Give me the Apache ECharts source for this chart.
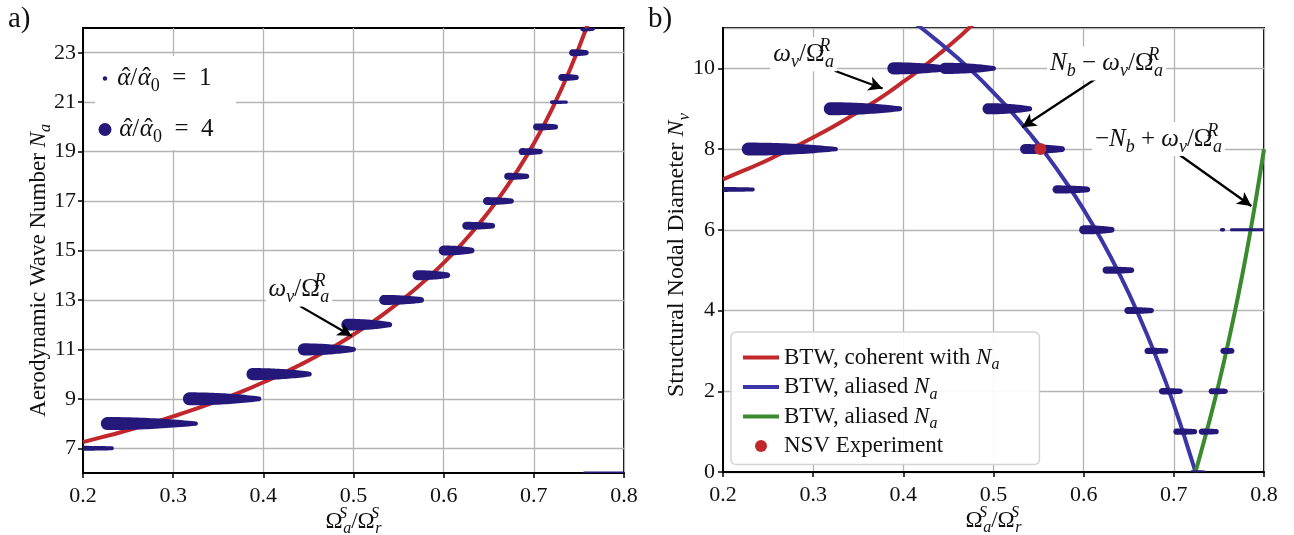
<!DOCTYPE html>
<html><head><meta charset="utf-8">
<script src="https://cdn.jsdelivr.net/npm/echarts@6/dist/echarts.min.js"></script>
<style>html,body{margin:0;padding:0;background:#fff;}#c{width:1294px;height:535px;}</style>
</head><body><div id="c"></div>
<script>
// ---------------- data ----------------
const xTicks = [0.2, 0.3, 0.4, 0.5, 0.6, 0.7, 0.8];
const yTicksA = [7, 9, 11, 13, 15, 17, 19, 21, 23];
const yTicksB = [0, 2, 4, 6, 8, 10];

// BTW coherent with Na : omega_v / Omega_a^R
const curveX = [0.20,0.22,0.24,0.26,0.28,0.30,0.32,0.34,0.36,0.38,0.40,0.42,0.44,0.46,0.48,0.50,0.52,0.54,0.56,0.58,0.60,0.62,0.64,0.66,0.68,0.70,0.72,0.74,0.76];
const curveCoherent = [7.25,7.44,7.63,7.84,8.06,8.29,8.53,8.79,9.06,9.35,9.67,10.00,10.36,10.74,11.15,11.60,12.08,12.61,13.18,13.81,14.50,15.26,16.11,17.06,18.13,19.33,20.71,22.31,24.17];
// aliased: Nb - omega_v/Omega_a^R
const aliasNegX = [0.40,0.42,0.44,0.46,0.48,0.50,0.52,0.54,0.56,0.58,0.60,0.62,0.64,0.66,0.68,0.70,0.72,0.724];
const aliasNegNv = [11.33,11.00,10.64,10.26,9.85,9.40,8.92,8.39,7.82,7.19,6.50,5.74,4.89,3.94,2.87,1.67,0.29,0.00];
// aliased: -Nb + omega_v/Omega_a^R
const aliasPosX = [0.724,0.73,0.74,0.75,0.76,0.77,0.78,0.79,0.80];
const aliasPosNv = [0.00,0.48,1.31,2.20,3.17,4.22,5.36,6.62,8.00];
// NSV experiment
const nsvX = [0.552];
const nsvNv = [8];

// panel a streaks: wave number, x at start, x at end, alpha-hat ratio at start / end
const streakA_N  = [7, 8, 9, 10, 11, 12, 13, 14, 15, 16, 17, 18, 19, 20, 21, 22, 23, 24, 6];
const streakA_x0 = [0.195,0.227,0.318,0.388,0.445,0.493,0.534,0.571,0.600,0.625,0.648,0.671,0.687,0.703,0.720,0.731,0.743,0.755,0.756];
const streakA_x1 = [0.232,0.325,0.395,0.451,0.500,0.540,0.575,0.604,0.631,0.654,0.675,0.692,0.707,0.724,0.736,0.747,0.758,0.765,0.800];
const streakA_a0 = [1.3,4.0,4.0,3.7,3.7,3.6,3.0,3.0,3.0,2.3,2.3,2.0,2.0,2.0,0.9,2.0,2.0,2.0,0.7];
const streakA_a1 = [1.0,1.1,1.3,1.3,1.3,1.4,1.6,1.6,1.6,1.5,1.4,1.4,1.4,1.4,0.7,1.4,1.4,1.6,0.7];

// panel b streaks: nodal diameter, x at start, x at end, alpha ratio start / end
const streakB_N  = [7, 8, 9, 10, 10, 9, 8, 7, 6, 5, 4, 3, 2, 1, 0, 1, 2, 3, 6, 6];
const streakB_x0 = [0.195,0.228,0.319,0.389,0.446,0.494,0.535,0.570,0.600,0.625,0.649,0.671,0.687,0.703,0.720,0.731,0.742,0.755,0.753,0.764];
const streakB_x1 = [0.233,0.325,0.396,0.451,0.500,0.540,0.576,0.604,0.631,0.653,0.675,0.691,0.707,0.723,0.734,0.747,0.757,0.764,0.755,0.800];
const streakB_a0 = [1.3,4.0,4.0,3.7,3.4,3.4,3.0,2.4,2.7,2.1,2.0,1.8,1.8,1.8,0.9,1.7,1.7,1.7,0.8,0.7];
const streakB_a1 = [1.0,1.1,1.3,1.3,1.3,1.4,1.6,1.6,1.6,1.5,1.4,1.4,1.4,1.4,0.7,1.4,1.4,1.6,0.8,0.7];

// ---------------- styling ----------------
const F = "'Liberation Serif','DejaVu Serif',serif";
const C = {red:'#c0282d', blue:'#3b35a6', green:'#3b8a2e', navy:'#24197a', grid:'#b4b4b4', ink:'#111'};
function rich(S){
  const b = {fontFamily:F, fontSize:S, color:C.ink, lineHeight:Math.round(S*1.35), verticalAlign:'middle'};
  const s = {fontFamily:F, fontSize:Math.round(S*0.7), color:C.ink, fontStyle:'italic'};
  return {
    rm: b,
    it: Object.assign({}, b, {fontStyle:'italic'}),
    hat: Object.assign({}, b, {width:0.5}),
    sub: Object.assign({}, s, {verticalAlign:'bottom'}),
    subr: Object.assign({}, s, {verticalAlign:'bottom', fontStyle:'normal'}),
    sup: Object.assign({}, s, {verticalAlign:'top'}),
    supz: Object.assign({}, s, {verticalAlign:'top', width:0.5})
  };
}
const alphaSize = a => 1 + 3 * a;   // marker diameter for alpha ratio

function zip(){ const arrs=[...arguments]; return arrs[0].map((_,i)=>arrs.map(a=>a[i])); }

function streakItem(params, api){
  const y = api.value(0), x0 = api.value(1), x1 = api.value(2);
  const r0 = alphaSize(api.value(3))/2, r1 = alphaSize(api.value(4))/2;
  const p0 = api.coord([x0, y]), p1 = api.coord([x1, y]);
  const L = p1[0]-p0[0];
  const rad = t => r1 + (r0 - r1) * (1 - t*t);
  const pts = [], n = 24;
  for (let i=0;i<=n;i++){ const t=i/n; pts.push([p0[0]+L*t, p0[1]-rad(t)]); }
  for (let k=1;k<12;k++){ const th=-Math.PI/2+Math.PI*k/12; pts.push([p1[0]+r1*Math.cos(th), p1[1]+r1*Math.sin(th)]); }
  for (let i=n;i>=0;i--){ const t=i/n; pts.push([p0[0]+L*t, p0[1]+rad(t)]); }
  for (let k=1;k<12;k++){ const th=Math.PI/2+Math.PI*k/12; pts.push([p0[0]+r0*Math.cos(th), p0[1]+r0*Math.sin(th)]); }
  return {type:'polygon', shape:{points:pts}, style:{fill:C.navy}};
}

const NAMES = {
  a1:'alpha1', a4:'alpha4',
  coh:'BTW, coherent with Na', neg:'BTW, aliased Na', pos:'BTW, aliased Na (2)', nsv:'NSV Experiment'
};
const AH = '{hat|\u2009\u02C6}{it|α}';
const LEG_TEXT = {};
LEG_TEXT[NAMES.a1] = AH + '{rm|/}' + AH + '{subr|0}{rm|\u2002=\u20021}';
LEG_TEXT[NAMES.a4] = AH + '{rm|/}' + AH + '{subr|0}{rm|\u2002=\u20024}';
LEG_TEXT[NAMES.coh] = '{rm|BTW, coherent with }{it|N}{sub|a}';
LEG_TEXT[NAMES.neg] = '{rm|BTW, aliased }{it|N}{sub|a}';
LEG_TEXT[NAMES.pos] = '{rm|BTW, aliased }{it|N}{sub|a}';
LEG_TEXT[NAMES.nsv] = '{rm|NSV Experiment}';

const OMEGA_RATIO = '{it|ω}{sub|v}{rm|/Ω}{supz|R}{sub|a}';

function xAxisCfg(gi){
  return {
    type:'value', gridIndex:gi, min:xTicks[0], max:xTicks[xTicks.length-1], interval:0.1,
    axisLine:{show:true, onZero:false, lineStyle:{color:'#000', width:2}},
    axisTick:{show:true, length:5, lineStyle:{color:'#000', width:1.5}},
    axisLabel:{fontFamily:F, fontSize:22, color:C.ink, margin:12, formatter:v=>v.toFixed(1)},
    splitLine:{show:true, lineStyle:{color:C.grid, width:1.3}},
    name:'{rm|Ω}{supz|S}{sub|a}{rm|/Ω}{supz|S}{sub|r}', nameLocation:'middle', nameGap:33, nameMoveOverlap:false,
    nameTextStyle:{rich:rich(23)}
  };
}

const option = {
  backgroundColor:'#fff',
  animation:false,
  title:[
    {text:'a)', left:3, top:0, textStyle:{fontFamily:F, fontSize:29, fontWeight:'normal', color:C.ink}},
    {text:'b)', left:643, top:0, textStyle:{fontFamily:F, fontSize:29, fontWeight:'normal', color:C.ink}}
  ],
  grid:[
    {left:83, top:28, width:541, height:445, show:true, borderColor:'#000', borderWidth:2, backgroundColor:'transparent',
     containLabel:false, outerBoundsMode:'none'},
    {left:723, top:28, width:541, height:444, show:true, borderColor:'#000', borderWidth:2, backgroundColor:'transparent',
     containLabel:false, outerBoundsMode:'none'}
  ],
  xAxis:[xAxisCfg(0), xAxisCfg(1)],
  yAxis:[
    {type:'value', gridIndex:0, min:6, max:24,
     axisLine:{show:true, onZero:false, lineStyle:{color:'#000', width:2}},
     axisTick:{show:true, length:5, customValues:yTicksA, lineStyle:{color:'#000', width:1.5}},
     axisLabel:{fontFamily:F, fontSize:22, color:C.ink, margin:7, customValues:yTicksA},
     splitLine:{show:false},
     name:'{rm|Aerodynamic Wave Number }{it|N}{sub|a}', nameLocation:'middle', nameGap:29, nameRotate:90, nameMoveOverlap:false,
     nameTextStyle:{rich:rich(23), padding:[0,40,0,0]}},
    {type:'value', gridIndex:1, min:yTicksB[0], max:11, interval:2,
     axisLine:{show:true, onZero:false, lineStyle:{color:'#000', width:2}},
     axisTick:{show:true, length:5, lineStyle:{color:'#000', width:1.5}},
     axisLabel:{fontFamily:F, fontSize:22, color:C.ink, margin:8, showMaxLabel:false},
     splitLine:{show:true, lineStyle:{color:C.grid, width:1.3}},
     name:'{rm|Structural Nodal Diameter }{it|N}{sub|v}', nameLocation:'middle', nameGap:30, nameRotate:90, nameMoveOverlap:false,
     nameTextStyle:{rich:rich(24), padding:[0,10,0,0]}}
  ],
  legend:[
    {data:[NAMES.a1], left:102.75, top:66, orient:'vertical', padding:0, itemWidth:13.25, itemHeight:4.5, icon:'circle',
     formatter:n=>LEG_TEXT[n], textStyle:{rich:rich(25)}, selectedMode:false, z:10},
    {data:[NAMES.a4], left:98.5, top:117, orient:'vertical', padding:0, itemWidth:17.5, itemHeight:13, icon:'circle',
     formatter:n=>LEG_TEXT[n], textStyle:{rich:rich(25)}, selectedMode:false, z:10},
    {data:[{name:NAMES.coh, itemStyle:{opacity:0}}, {name:NAMES.neg, itemStyle:{opacity:0}},
           {name:NAMES.pos, itemStyle:{opacity:0}}, {name:NAMES.nsv, icon:'circle'}],
     left:731, top:332, orient:'vertical', padding:[14,40,7,10], itemGap:2.5, itemWidth:36, itemHeight:12,
     lineStyle:{width:'inherit'},
     backgroundColor:'rgba(255,255,255,0.92)', borderColor:'#d4d4d4', borderWidth:1.5, borderRadius:5,
     formatter:n=>LEG_TEXT[n], textStyle:{rich:rich(23)}, selectedMode:false, z:10}
  ],
  graphic:[
    {type:'rect', left:95, top:56, shape:{width:141, height:94}, style:{fill:'#fff'}, z:5, silent:true}
  ],
  series:[
    // panel a grid lines at odd wave numbers
    {type:'line', xAxisIndex:0, yAxisIndex:0, data:[], silent:true, z:0,
     markLine:{silent:true, z:0, symbol:['none','none'], label:{show:false}, animation:false,
       lineStyle:{color:C.grid, width:1.3, type:'solid'}, emphasis:{disabled:true},
       data:yTicksA.map(v=>({yAxis:v}))}},
    // panel a curve
    {name:'curveA', type:'line', xAxisIndex:0, yAxisIndex:0, data:zip(curveX, curveCoherent),
     symbol:'none', smooth:true, clip:true, lineStyle:{color:C.red, width:4}, z:2},
    // panel a streaks
    {name:'streaksA', type:'custom', xAxisIndex:0, yAxisIndex:0, clip:true, z:3,
     data:zip(streakA_N, streakA_x0, streakA_x1, streakA_a0, streakA_a1),
     encode:{x:[1,2], y:0}, renderItem:streakItem},
    // legend entries for panel a
    {name:NAMES.a1, type:'scatter', xAxisIndex:0, yAxisIndex:0, data:[], itemStyle:{color:C.navy, opacity:1}},
    {name:NAMES.a4, type:'scatter', xAxisIndex:0, yAxisIndex:0, data:[], itemStyle:{color:C.navy, opacity:1}},
    // panel a annotation
    {type:'line', xAxisIndex:0, yAxisIndex:0, data:[], z:6,
     markLine:{silent:true, symbol:['none','arrow'], symbolSize:[11,14], label:{show:false},
       lineStyle:{color:'#000', width:2.3, type:'solid'}, emphasis:{disabled:true},
       data:[[{coord:[0.4407,12.75]},{coord:[0.498,11.54]}]]},
     markPoint:{silent:true, symbol:'rect', symbolSize:0,
       label:{show:true, position:'inside', formatter:OMEGA_RATIO, rich:rich(25), backgroundColor:'#fff', padding:[0,3]},
       data:[{coord:[0.4395,13.42]}]}},

    // panel b curves
    {name:NAMES.coh, type:'line', xAxisIndex:1, yAxisIndex:1, data:zip(curveX, curveCoherent),
     symbol:'none', smooth:true, clip:true, lineStyle:{color:C.red, width:4}, itemStyle:{color:C.red}, z:2},
    {name:NAMES.neg, type:'line', xAxisIndex:1, yAxisIndex:1, data:zip(aliasNegX, aliasNegNv),
     symbol:'none', smooth:true, clip:true, lineStyle:{color:C.blue, width:4}, itemStyle:{color:C.blue}, z:2},
    {name:NAMES.pos, type:'line', xAxisIndex:1, yAxisIndex:1, data:zip(aliasPosX, aliasPosNv),
     symbol:'none', smooth:true, clip:true, lineStyle:{color:C.green, width:4}, itemStyle:{color:C.green}, z:2},
    {name:'streaksB', type:'custom', xAxisIndex:1, yAxisIndex:1, clip:true, z:3,
     data:zip(streakB_N, streakB_x0, streakB_x1, streakB_a0, streakB_a1),
     encode:{x:[1,2], y:0}, renderItem:streakItem},
    {name:NAMES.nsv, type:'scatter', xAxisIndex:1, yAxisIndex:1, data:zip(nsvX, nsvNv),
     symbolSize:12, itemStyle:{color:C.red, opacity:1}, z:7},
    // panel b annotations
    {type:'line', xAxisIndex:1, yAxisIndex:1, data:[], z:6,
     markLine:{silent:true, symbol:['none','arrow'], symbolSize:[11,14], label:{show:false},
       lineStyle:{color:'#000', width:2.3, type:'solid'}, emphasis:{disabled:true},
       data:[
         [{coord:[0.3238,9.94]},{coord:[0.377,9.50]}],
         [{coord:[0.6147,9.76]},{coord:[0.5318,8.54]}],
         [{coord:[0.703,7.91]},{coord:[0.786,6.59]}]
       ]},
     markPoint:{silent:true, symbol:'rect', symbolSize:0,
       label:{show:true, position:'inside', rich:rich(25), backgroundColor:'#fff', padding:[0,3]},
       data:[
         {coord:[0.2895,10.35], label:{formatter:OMEGA_RATIO}},
         {coord:[0.6254,10.12], label:{formatter:'{it|N}{sub|b}{rm| − }'+OMEGA_RATIO}},
         {coord:[0.6829,8.25], label:{formatter:'{rm|−}{it|N}{sub|b}{rm| + }'+OMEGA_RATIO}}
       ]}}
  ]
};

const chart = echarts.init(document.getElementById('c'), null, {renderer:'canvas'});
chart.setOption(option);
</script></body></html>
